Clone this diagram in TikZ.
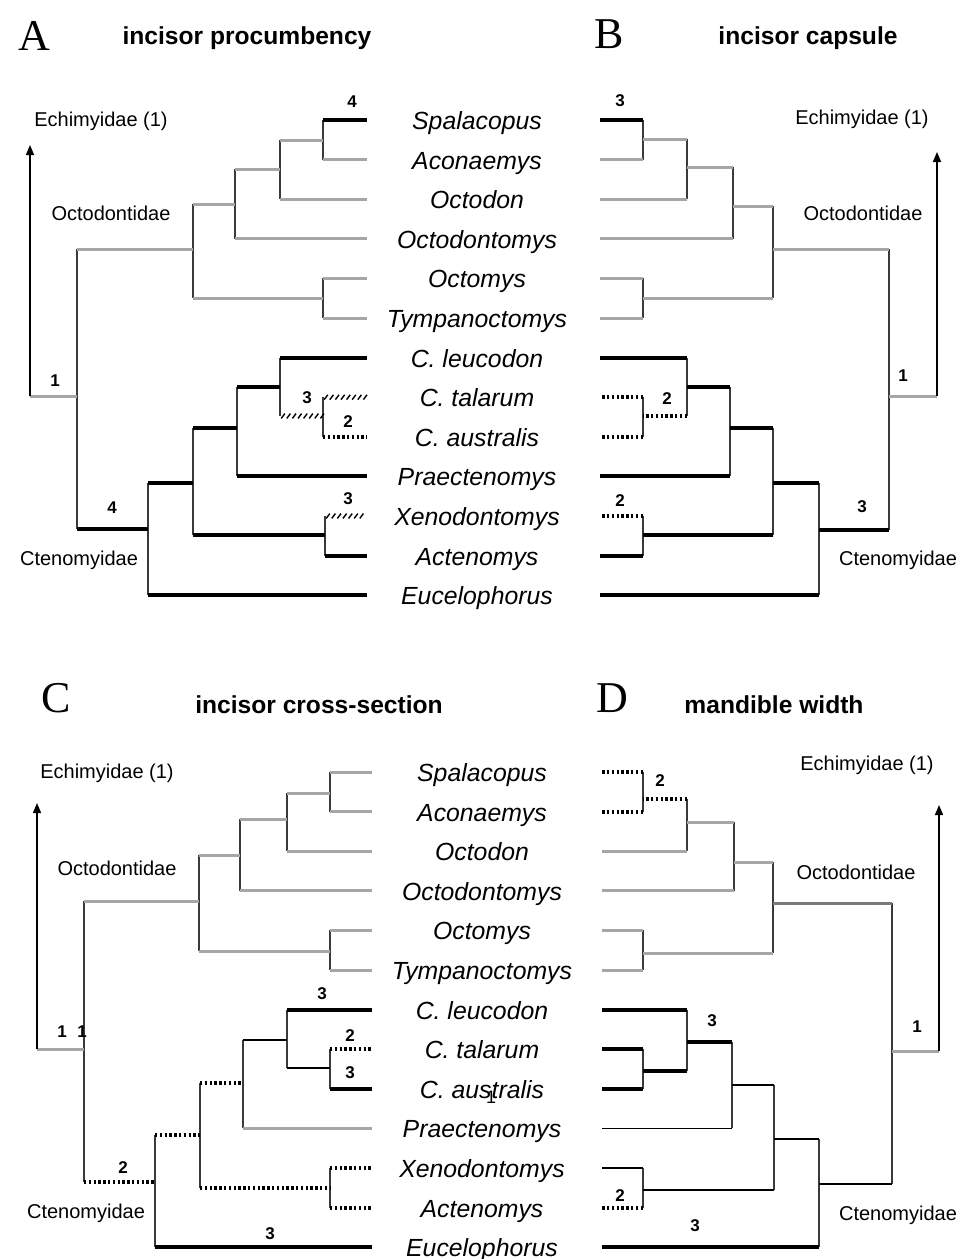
\documentclass[tikz,border=0pt]{standalone}
\usepackage{fontspec}
\setmainfont{Liberation Sans}
\newfontfamily\letterfont{Liberation Serif}
\usetikzlibrary{arrows.meta,decorations.markings}
\definecolor{lgray}{HTML}{A6A6A6}
\definecolor{mgray}{HTML}{7A7A7A}
\definecolor{vgray}{HTML}{3A3A3A}
\tikzset{
  blk/.style={line width=2pt, black},
  gry/.style={line width=1.5pt, lgray},
  dgry/.style={line width=1.5pt, mgray},
  thn/.style={line width=0.7pt, black},
  vl/.style={line width=0.7pt, vgray},
  dots/.style={line width=2pt, black, dash pattern=on 1.2pt off 1.2pt},
  hatch/.style={postaction={decorate},
    decoration={markings, mark=between positions 1.5pt and 1 step 2.8pt with {\draw[line width=0.7pt,black] (-0.9pt,-1.2pt)--(0.9pt,1.2pt);}}},
  sp/.style={font=\fontsize{12.4}{14}\selectfont\itshape, anchor=base, inner sep=0pt},
  num/.style={font=\fontsize{8.5}{10}\selectfont\bfseries, inner sep=0pt},
  clade/.style={font=\fontsize{10}{12}\selectfont, inner sep=0pt},
  ttl/.style={font=\fontsize{12.3}{14}\selectfont\bfseries, inner sep=0pt},
  letr/.style={font=\fontsize{22}{24}\selectfont\letterfont, inner sep=0pt},
  arr/.style={-{Triangle[width=4pt,length=5pt]}, line width=0.7pt, black}
}
\begin{document}
\begin{tikzpicture}[x=0.5pt,y=-0.5pt]
\useasboundingbox (0,0) rectangle (962,1259);
% ---------------- species names ----------------
\foreach \n [count=\i from 0] in {Spalacopus,Aconaemys,Octodon,Octodontomys,Octomys,Tympanoctomys,C. leucodon,C. talarum,C. australis,Praectenomys,Xenodontomys,Actenomys,Eucelophorus}{
  \node[sp] (sT\i) at (477,{120+39.6*\i+9.5}) {\n};
  \node[sp] (sB\i) at (482,{772+39.6*\i+9.5}) {\n};
  \coordinate (A\i) at (367,{120+39.6*\i});
  \coordinate (B\i) at (600,{120+39.6*\i});
  \coordinate (C\i) at (372,{772+39.6*\i});
  \coordinate (D\i) at (602,{772+39.6*\i});
}
% ---------------- headings ----------------
\node[letr] (LA) at (34,36) {A};
\node[ttl] (TA) at (247,38) {incisor procumbency};
\node[letr] (LB) at (609,34) {B};
\node[ttl] (TB) at (808,38) {incisor capsule};
\node[letr] (LC) at (56,698) {C};
\node[ttl] (TC) at (319,705) {incisor cross-section};
\node[letr] (LD) at (612,698) {D};
\node[ttl] (TD) at (774,705) {mandible width};

% ================= PANEL A =================
\coordinate (a1) at (323,140);
\coordinate (a2) at (280,169);
\coordinate (a3) at (235,204);
\coordinate (a4) at (323,298);
\coordinate (a5) at (193,249);
\coordinate (ar) at (77,396);
\coordinate (ae) at (30,396);
\coordinate (at) at (30,145);
\coordinate (c1) at (148,529);
\coordinate (c2) at (193,483);
\coordinate (c3) at (237,428);
\coordinate (c4) at (325,535);
\coordinate (c5) at (280,387);
\coordinate (c6) at (323,416);
% verticals
\draw[vl] (a1|-A0) -- (a1|-A1);
\draw[vl] (a2|-a1) -- (a2|-A2);
\draw[vl] (a3|-a2) -- (a3|-A3);
\draw[vl] (a4|-A4) -- (a4|-A5);
\draw[vl] (a5|-a3) -- (a5|-a4);
\draw[vl] (ar|-a5) -- (ar|-c1);
\draw[vl] (c1|-c2) -- (c1|-A12);
\draw[vl] (c2|-c3) -- (c2|-c4);
\draw[vl] (c3|-c5) -- (c3|-A9);
\draw[vl] (c5|-A6) -- (c5|-c6);
\draw[vl] (c6|-A7) -- (c6|-A8);
\draw[vl] (c4|-A10) -- (c4|-A11);
% leaves
\draw[blk] (a1|-A0) -- (A0);
\draw[gry] (a1|-A1) -- (A1);
\draw[gry] (a2|-A2) -- (A2);
\draw[gry] (a3|-A3) -- (A3);
\draw[gry] (a4|-A4) -- (A4);
\draw[gry] (a4|-A5) -- (A5);
\draw[blk] (c5|-A6) -- (A6);
\path[hatch] (c6|-A7) -- (A7);
\draw[dots] (c6|-A8) -- (A8);
\draw[blk] (c3|-A9) -- (A9);
\path[hatch] (c4|-A10) -- (A10);
\draw[blk] (c4|-A11) -- (A11);
\draw[blk] (c1|-A12) -- (A12);
% stems
\draw[gry] (a2|-a1) -- (a1);
\draw[gry] (a3|-a2) -- (a2);
\draw[gry] (a5|-a3) -- (a3);
\draw[gry] (a5|-a4) -- (a4);
\draw[gry] (ar|-a5) -- (a5);
\draw[gry] (ae) -- (ar);
\draw[blk] (ar|-c1) -- (c1);
\draw[blk] (c1|-c2) -- (c2);
\draw[blk] (c2|-c3) -- (c3);
\draw[blk] (c2|-c4) -- (c4);
\draw[blk] (c3|-c5) -- (c5);
\path[hatch] (c5|-c6) -- (c6);
\draw[arr] (ae) -- (at);
% labels
\node[clade] (EA) at (101,121) {Echimyidae (1)};
\node[clade] (OA) at (111,213) {Octodontidae};
\node[clade] (CA) at (79,560) {Ctenomyidae};
\node[num] (nA1) at (352,102) {4};
\node[num] (nA2) at (307,398) {3};
\node[num] (nA3) at (348,422) {2};
\node[num] (nA4) at (348,499) {3};
\node[num] (nA5) at (112,508) {4};
\node[num] (nA6) at (55,381) {1};

% ================= PANEL B =================
\coordinate (b1) at (643,139);
\coordinate (b2) at (687,167);
\coordinate (b3) at (733,206);
\coordinate (b4) at (643,298);
\coordinate (b5) at (773,249);
\coordinate (br) at (889,396);
\coordinate (be) at (937,396);
\coordinate (bt) at (937,152);
\coordinate (d1) at (819,530);
\coordinate (d2) at (773,483);
\coordinate (d3) at (730,428);
\coordinate (d4) at (643,535);
\coordinate (d5) at (687,387);
\coordinate (d6) at (643,416);
\draw[vl] (b1|-B0) -- (b1|-B1);
\draw[vl] (b2|-b1) -- (b2|-B2);
\draw[vl] (b3|-b2) -- (b3|-B3);
\draw[vl] (b4|-B4) -- (b4|-B5);
\draw[vl] (b5|-b3) -- (b5|-b4);
\draw[vl] (br|-b5) -- (br|-d1);
\draw[vl] (d1|-d2) -- (d1|-B12);
\draw[vl] (d2|-d3) -- (d2|-d4);
\draw[vl] (d3|-d5) -- (d3|-B9);
\draw[vl] (d5|-B6) -- (d5|-d6);
\draw[vl] (d6|-B7) -- (d6|-B8);
\draw[vl] (d4|-B10) -- (d4|-B11);
\draw[blk] (b1|-B0) -- (B0);
\draw[gry] (b1|-B1) -- (B1);
\draw[gry] (b2|-B2) -- (B2);
\draw[gry] (b3|-B3) -- (B3);
\draw[gry] (b4|-B4) -- (B4);
\draw[gry] (b4|-B5) -- (B5);
\draw[blk] (d5|-B6) -- (B6);
\draw[dots] (d6|-B7) -- (B7);
\draw[dots] (d6|-B8) -- (B8);
\draw[blk] (d3|-B9) -- (B9);
\draw[dots] (d4|-B10) -- (B10);
\draw[blk] (d4|-B11) -- (B11);
\draw[blk] (d1|-B12) -- (B12);
\draw[gry] (b2|-b1) -- (b1);
\draw[gry] (b3|-b2) -- (b2);
\draw[gry] (b5|-b3) -- (b3);
\draw[gry] (b5|-b4) -- (b4);
\draw[gry] (br|-b5) -- (b5);
\draw[gry] (be) -- (br);
\draw[blk] (br|-d1) -- (d1);
\draw[blk] (d1|-d2) -- (d2);
\draw[blk] (d2|-d3) -- (d3);
\draw[blk] (d2|-d4) -- (d4);
\draw[blk] (d3|-d5) -- (d5);
\draw[dots] (d5|-d6) -- (d6);
\draw[arr] (be) -- (bt);
\node[clade] (EB) at (862,119) {Echimyidae (1)};
\node[clade] (OB) at (863,213) {Octodontidae};
\node[clade] (CB) at (898,560) {Ctenomyidae};
\node[num] (nB1) at (620,101) {3};
\node[num] (nB2) at (667,399) {2};
\node[num] (nB3) at (620,501) {2};
\node[num] (nB4) at (862,507) {3};
\node[num] (nB5) at (903,376) {1};

% ================= PANEL C =================
\coordinate (g1) at (330,793);
\coordinate (g2) at (287,819);
\coordinate (g3) at (240,855);
\coordinate (g4) at (330,951);
\coordinate (g5) at (199,901);
\coordinate (gr) at (84,1049);
\coordinate (ge) at (37,1049);
\coordinate (gt) at (37,803);
\coordinate (h1) at (155,1182);
\coordinate (h2) at (200,1135);
\coordinate (h3) at (243,1083);
\coordinate (h4) at (330,1188);
\coordinate (h5) at (287,1040);
\coordinate (h6) at (330,1068);
\draw[vl] (g1|-C0) -- (g1|-C1);
\draw[vl] (g2|-g1) -- (g2|-C2);
\draw[vl] (g3|-g2) -- (g3|-C3);
\draw[vl] (g4|-C4) -- (g4|-C5);
\draw[vl] (g5|-g3) -- (g5|-g4);
\draw[vl] (gr|-g5) -- (gr|-h1);
\draw[vl] (h1|-h2) -- (h1|-C12);
\draw[vl] (h2|-h3) -- (h2|-h4);
\draw[vl] (h3|-h5) -- (h3|-C9);
\draw[vl] (h5|-C6) -- (h5|-h6);
\draw[vl] (h6|-C7) -- (h6|-C8);
\draw[vl] (h4|-C10) -- (h4|-C11);
\draw[gry] (g1|-C0) -- (C0);
\draw[gry] (g1|-C1) -- (C1);
\draw[gry] (g2|-C2) -- (C2);
\draw[gry] (g3|-C3) -- (C3);
\draw[gry] (g4|-C4) -- (C4);
\draw[gry] (g4|-C5) -- (C5);
\draw[blk] (h5|-C6) -- (C6);
\draw[dots] (h6|-C7) -- (C7);
\draw[blk] (h6|-C8) -- (C8);
\draw[gry] (h3|-C9) -- (C9);
\draw[dots] (h4|-C10) -- (C10);
\draw[dots] (h4|-C11) -- (C11);
\draw[blk] (h1|-C12) -- (C12);
\draw[gry] (g2|-g1) -- (g1);
\draw[gry] (g3|-g2) -- (g2);
\draw[gry] (g5|-g3) -- (g3);
\draw[gry] (g5|-g4) -- (g4);
\draw[gry] (gr|-g5) -- (g5);
\draw[gry] (ge) -- (gr);
\draw[dots] (gr|-h1) -- (h1);
\draw[dots] (h1|-h2) -- (h2);
\draw[dots] (h2|-h3) -- (h3);
\draw[dots] (h2|-h4) -- (h4);
\draw[thn] (h3|-h5) -- (h5);
\draw[thn] (h5|-h6) -- (h6);
\draw[arr] (ge) -- (gt);
\node[clade] (EC) at (107,773) {Echimyidae (1)};
\node[clade] (OC) at (117,868) {Octodontidae};
\node[clade] (CC) at (86,1213) {Ctenomyidae};
\node[num] (nC1) at (322,994) {3};
\node[num] (nC2) at (350,1036) {2};
\node[num] (nC3) at (350,1073) {3};
\node[num] (nC4) at (123,1168) {2};
\node[num] (nC5) at (270,1234) {3};
\node[num] (nC6) at (62,1032) {1};
\node[num] (nC7) at (82,1032) {1};
\node[num,font=\fontsize{9}{10}\selectfont] (nC8) at (491,1097) {1};

% ================= PANEL D =================
\coordinate (k1) at (643,799);
\coordinate (k2) at (687,822);
\coordinate (k3) at (734,862);
\coordinate (k4) at (643,953);
\coordinate (k5) at (773,903);
\coordinate (kr) at (892,1051);
\coordinate (ke) at (939,1051);
\coordinate (kt) at (939,805);
\coordinate (m1) at (819,1184);
\coordinate (m2) at (774,1139);
\coordinate (m3) at (732,1085);
\coordinate (m4) at (643,1190);
\coordinate (m5) at (687,1042);
\coordinate (m6) at (643,1071);
\draw[vl] (k1|-D0) -- (k1|-D1);
\draw[vl] (k2|-k1) -- (k2|-D2);
\draw[vl] (k3|-k2) -- (k3|-D3);
\draw[vl] (k4|-D4) -- (k4|-D5);
\draw[vl] (k5|-k3) -- (k5|-k4);
\draw[vl] (kr|-k5) -- (kr|-m1);
\draw[vl] (m1|-m2) -- (m1|-D12);
\draw[vl] (m2|-m3) -- (m2|-m4);
\draw[vl] (m3|-m5) -- (m3|-D9);
\draw[vl] (m5|-D6) -- (m5|-m6);
\draw[vl] (m6|-D7) -- (m6|-D8);
\draw[vl] (m4|-D10) -- (m4|-D11);
\draw[dots] (k1|-D0) -- (D0);
\draw[dots] (k1|-D1) -- (D1);
\draw[gry] (k2|-D2) -- (D2);
\draw[gry] (k3|-D3) -- (D3);
\draw[gry] (k4|-D4) -- (D4);
\draw[gry] (k4|-D5) -- (D5);
\draw[blk] (m5|-D6) -- (D6);
\draw[blk] (m6|-D7) -- (D7);
\draw[blk] (m6|-D8) -- (D8);
\draw[thn] (m3|-D9) -- (D9);
\draw[thn] (m4|-D10) -- (D10);
\draw[dots] (m4|-D11) -- (D11);
\draw[blk] (m1|-D12) -- (D12);
\draw[dots] (k2|-k1) -- (k1);
\draw[gry] (k3|-k2) -- (k2);
\draw[gry] (k5|-k3) -- (k3);
\draw[gry] (k5|-k4) -- (k4);
\draw[dgry] (kr|-k5) -- (k5);
\draw[gry] (ke) -- (kr);
\draw[thn] (kr|-m1) -- (m1);
\draw[thn] (m1|-m2) -- (m2);
\draw[thn] (m2|-m3) -- (m3);
\draw[thn] (m2|-m4) -- (m4);
\draw[blk] (m3|-m5) -- (m5);
\draw[blk] (m5|-m6) -- (m6);
\draw[arr] (ke) -- (kt);
\node[clade] (ED) at (867,765) {Echimyidae (1)};
\node[clade] (OD) at (856,872) {Octodontidae};
\node[clade] (CD) at (898,1215) {Ctenomyidae};
\node[num] (nD1) at (660,781) {2};
\node[num] (nD2) at (712,1021) {3};
\node[num] (nD3) at (620,1196) {2};
\node[num] (nD4) at (695,1226) {3};
\node[num] (nD5) at (917,1027) {1};
\end{tikzpicture}
\end{document}
